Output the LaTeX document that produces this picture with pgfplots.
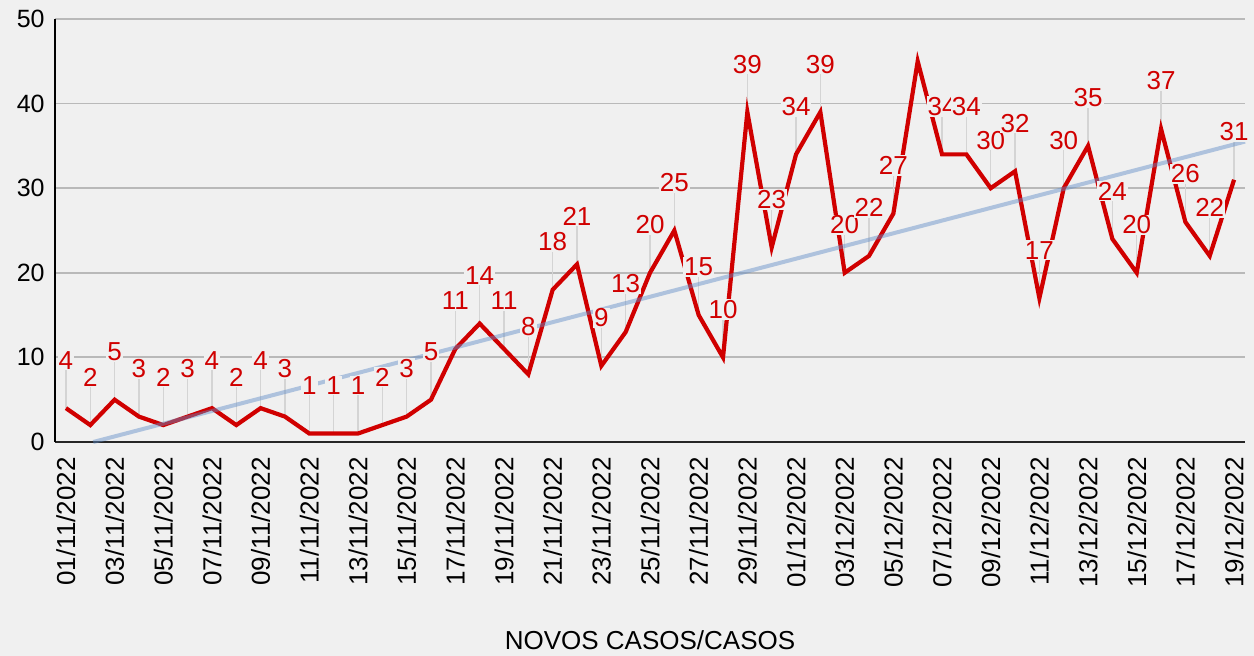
\documentclass[border=0pt]{standalone}
\usepackage{fontspec}
\setmainfont{Liberation Sans}
\usepackage{pgfplots}
\pgfplotsset{compat=1.18}
\usepackage{pgfplotstable}
\definecolor{bgc}{RGB}{240,240,240}
\definecolor{lred}{RGB}{208,0,0}
\definecolor{trend}{RGB}{95,140,200}
\definecolor{gridc}{RGB}{185,185,185}
\definecolor{leader}{RGB}{212,212,212}

\pgfplotstableread{
x y
0 4
1 2
2 5
3 3
4 2
5 3
6 4
7 2
8 4
9 3
10 1
11 1
12 1
13 2
14 3
15 5
16 11
17 14
18 11
19 8
20 18
21 21
22 9
23 13
24 20
25 25
26 15
27 10
28 39
29 23
30 34
31 39
32 20
33 22
34 27
35 45
36 34
37 34
38 30
39 32
40 17
41 30
42 35
43 24
44 20
45 37
46 26
47 22
48 31
}\casos

\begin{document}
\begin{tikzpicture}
\fill[bgc] (-27.5pt,-107pt) rectangle (599.5pt,221pt);
\begin{axis}[
  scale only axis, width=595pt, height=211.5pt,
  at={(0,0)}, anchor=south west,
  xmin=-0.45, xmax=48.45, ymin=0, ymax=50,
  clip=false,
  axis x line*=bottom, axis y line*=left,
  x axis line style={-, black!85, line width=1.3pt},
  y axis line style={-, black, line width=1pt},
  major tick length=0pt,
  ymajorgrids=true,
  major grid style={gridc, line width=0.9pt},
  ytick={0,10,...,50},
  xtick={0,2,...,48},
  xticklabels={01/11/2022,03/11/2022,05/11/2022,07/11/2022,09/11/2022,11/11/2022,13/11/2022,15/11/2022,17/11/2022,19/11/2022,21/11/2022,23/11/2022,25/11/2022,27/11/2022,29/11/2022,01/12/2022,03/12/2022,05/12/2022,07/12/2022,09/12/2022,11/12/2022,13/12/2022,15/12/2022,17/12/2022,19/12/2022},
  /pgf/number format/assume math mode=true,
  yticklabel style={font=\fontsize{12.5}{14}\selectfont, anchor=east, inner sep=0pt, xshift=-5pt},
  xticklabel style={font=\fontsize{13}{15}\selectfont, yshift=-7.5pt, rotate=90, anchor=east, inner sep=0pt},
  xlabel={NOVOS CASOS/CASOS},
  xlabel style={font=\fontsize{13}{15}\selectfont, at={(axis description cs:0.5,0)}, anchor=center, yshift=-99pt},
]
% leader lines
\addplot[draw=none, mark=none, forget plot, skip coords between index={35}{36},
  error bars/.cd, y dir=plus, y fixed=4.5, error mark=none,
  error bar style={draw=leader, line width=0.6pt}] table[x=x,y=y] {\casos};
% main series
\addplot[lred, line width=2.1pt, mark=none, line join=miter] table[x=x,y=y] {\casos};
% trend line
\addplot[trend, opacity=0.45, line width=2pt, mark=none] coordinates {(1.12,0) (48.45,35.51)};
% data labels
\addplot[draw=none, mark=none, skip coords between index={35}{36},
  nodes near coords,
  every node near coord/.append style={anchor=center, yshift=24pt, font=\fontsize{13}{15}\selectfont, text=lred, fill=bgc, inner sep=0.5pt}]
  table[x=x,y=y] {\casos};
\end{axis}
\pgfresetboundingbox
\path[use as bounding box] (-27.5pt,-107pt) rectangle (599.5pt,221pt);
\end{tikzpicture}
\end{document}
